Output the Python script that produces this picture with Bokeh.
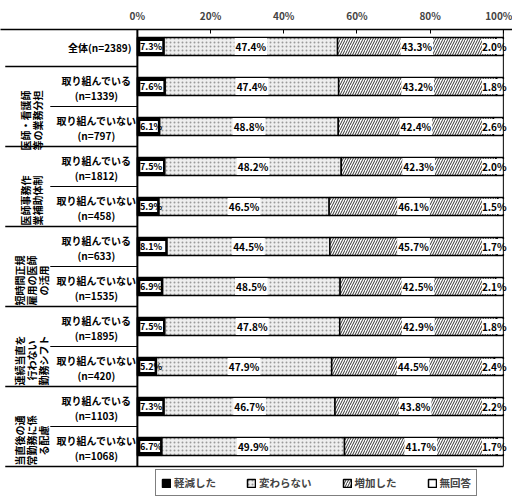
from math import pi
from bokeh.plotting import figure
from bokeh.models import ColumnDataSource, Range1d, FixedTicker, Legend, LegendItem
from bokeh.core.properties import value
from bokeh.embed import file_html
from bokeh.resources import INLINE

# ---- data ----
group_names = ["", "医師・看護師\n等の業務分担", "医師事務作\n業補助体制",
               "短時間正規\n雇用の医師\nの活用", "連続当直を\n行わない\n勤務シフト",
               "当直後の通\n常勤務に係\nる配慮"]
row_labels = ["全体(n=2389)",
              "取り組んでいる\n(n=1339)", "取り組んでいない\n(n=797)",
              "取り組んでいる\n(n=1812)", "取り組んでいない\n(n=458)",
              "取り組んでいる\n(n=633)", "取り組んでいない\n(n=1535)",
              "取り組んでいる\n(n=1895)", "取り組んでいない\n(n=420)",
              "取り組んでいる\n(n=1103)", "取り組んでいない\n(n=1068)"]
row_group = [0, 1, 1, 2, 2, 3, 3, 4, 4, 5, 5]
decreased = [7.3, 7.6, 6.1, 7.5, 5.9, 8.1, 6.9, 7.5, 5.2, 7.3, 6.7]
unchanged = [47.4, 47.4, 48.8, 48.2, 46.5, 44.5, 48.5, 47.8, 47.9, 46.7, 49.9]
increased = [43.3, 43.2, 42.4, 42.3, 46.1, 45.7, 42.5, 42.9, 44.5, 43.8, 41.7]
no_answer = [2.0, 1.8, 2.6, 2.0, 1.5, 1.7, 2.1, 1.8, 2.4, 2.2, 1.7]
series_names = ["軽減した", "変わらない", "増加した", "無回答"]
x_ticks = [0, 20, 40, 60, 80, 100]

FONT = "Noto Sans CJK JP"
X0, X1 = -37.4, 102.5
Y_TOP, Y_BOT = -0.425, 11.35
n = len(row_labels)
ys = list(range(n))
bottom_edge = n - 0.5

l1 = [0.0] * n
r1 = decreased[:]
r2 = [a + b for a, b in zip(r1, unchanged)]
r3 = [a + b for a, b in zip(r2, increased)]
r4 = [a + b for a, b in zip(r3, no_answer)]

fmt = lambda v: f"{v:.1f}%"
src = ColumnDataSource(dict(
    y=ys, l1=l1, r1=r1, r2=r2, r3=r3, r4=r4,
    il=[a + 0.8 for a in l1], ir=[b - 0.5 for b in r1],
    t1=[fmt(v) for v in decreased], t2=[fmt(v) for v in unchanged],
    t3=[fmt(v) for v in increased], t4=[fmt(v) for v in no_answer],
    x1=[a + 0.7 for a in l1],
    x2=[(a + b) / 2 for a, b in zip(r1, r2)],
    x3=[(a + b) / 2 for a, b in zip(r2, r3)],
    x4=[x_ticks[-1] + 0.9] * n,
))

p = figure(width=512, height=500, x_range=Range1d(X0, X1), y_range=Range1d(Y_BOT, Y_TOP),
           x_axis_location="above", y_axis_location=None,
           output_backend="svg", toolbar_location=None,
           min_border_left=0, min_border_right=0, min_border_top=29, min_border_bottom=0)
p.outline_line_color = None
p.grid.visible = False

ax = p.xaxis[0]
ax.ticker = FixedTicker(ticks=x_ticks)
ax.major_label_overrides = {t: f"{t}%" for t in x_ticks}
ax.axis_line_width = 1.5
ax.major_tick_in = 4
ax.major_tick_out = 0
ax.minor_tick_line_color = None
ax.major_label_text_font = FONT
ax.major_label_text_font_style = "bold"
ax.major_label_text_font_size = "10px"
ax.major_label_standoff = 7

H = 0.45
r_dec = p.hbar(y="y", left="l1", right="r1", height=H, source=src,
               fill_color="black", line_color="black", line_width=1.5)
p.hbar(y="y", left="il", right="ir", height=0.27, source=src,
       fill_color="white", line_color=None)
r_unc = p.hbar(y="y", left="r1", right="r2", height=H, source=src,
               fill_color="#eeeeee", hatch_pattern="dot", hatch_color="#9a9a9a",
               hatch_scale=4, hatch_weight=1, line_color="black", line_width=1.5)
r_inc = p.hbar(y="y", left="r2", right="r3", height=H, source=src,
               fill_color="white", hatch_pattern="/", hatch_color="black",
               hatch_scale=5, hatch_weight=0.8, line_color="black", line_width=1.5)
r_na = p.hbar(y="y", left="r3", right="r4", height=H, source=src,
              fill_color="white", line_color="black", line_width=1.5)

tkw = dict(text_font=value(FONT), text_font_style="bold",
           text_baseline="middle", text_color="black", source=src)
p.text(x="x1", y="y", text="t1", text_align="left", text_font_size="9px", **tkw)
p.text(x="x2", y="y", text="t2", text_align="center", text_font_size="10px",
       background_fill_color="white", padding=1, **tkw)
p.text(x="x3", y="y", text="t3", text_align="center", text_font_size="10px",
       background_fill_color="white", padding=1, **tkw)
p.text(x="x4", y="y", text="t4", text_align="right", text_font_size="10px",
       background_fill_color="white", padding=0, **tkw)

# ---- frame lines ----
p.segment(x0=[x_ticks[0]], y0=[Y_TOP], x1=[x_ticks[0]], y1=[bottom_edge], line_color="black", line_width=2)
p.segment(x0=[x_ticks[-1]], y0=[Y_TOP], x1=[x_ticks[-1]], y1=[bottom_edge], line_color="black", line_width=1)
p.segment(x0=[X0 + 1.3], y0=[bottom_edge], x1=[x_ticks[-1]], y1=[bottom_edge], line_color="black", line_width=1.5)

# separators in label area
gsep, ssep = [], []
for i in range(1, n):
    if row_group[i] != row_group[i - 1]:
        gsep.append(i - 0.5)
    else:
        ssep.append(i - 0.5)
p.segment(x0=[X0 + 1.3] * len(gsep), y0=gsep, x1=[x_ticks[0]] * len(gsep), y1=gsep,
          line_color="black", line_width=1.5)
p.segment(x0=[-23.8] * len(ssep), y0=ssep, x1=[x_ticks[0]] * len(ssep), y1=ssep,
          line_color="black", line_width=1.2)

# row labels
lab_x, lab_align, lab_y = [], [], []
for i, g in enumerate(row_group):
    if g == 0:
        lab_x.append(-1.6); lab_align.append("right")
    else:
        lab_x.append(-11.2); lab_align.append("center")
    lab_y.append(i)
lsrc = ColumnDataSource(dict(x=lab_x, y=lab_y, t=row_labels, a=lab_align))
p.text(x="x", y="y", text="t", text_align="a", text_baseline="middle", source=lsrc,
       text_font=value(FONT), text_font_style="bold", text_font_size="10px",
       text_line_height=1.0, y_offset=1)

# group labels (rotated)
gx, gy, gt = [], [], []
for g in range(1, len(group_names)):
    rows = [i for i, rg in enumerate(row_group) if rg == g]
    gx.append(-28.9)
    gy.append(sum(rows) / len(rows))
    gt.append(group_names[g])
p.text(x=gx, y=gy, text=gt, angle=pi / 2, text_align="center", text_baseline="middle",
       text_font=value(FONT), text_font_style="bold", text_font_size="10px",
       text_line_height=0.8, y_offset=14)

legend = Legend(items=[LegendItem(label=series_names[0], renderers=[r_dec]),
                       LegendItem(label=series_names[1], renderers=[r_unc]),
                       LegendItem(label=series_names[2], renderers=[r_inc]),
                       LegendItem(label=series_names[3], renderers=[r_na])],
                orientation="horizontal", location=(155, 4),
                border_line_color="black", border_line_width=1,
                padding=5, spacing=30, label_standoff=3, margin=0,
                glyph_width=10, glyph_height=10,
                label_text_font=FONT, label_text_font_size="10.5px",
                label_text_font_style="bold", background_fill_alpha=1)
p.add_layout(legend)

open("out.html", "w").write(file_html(p, INLINE))
